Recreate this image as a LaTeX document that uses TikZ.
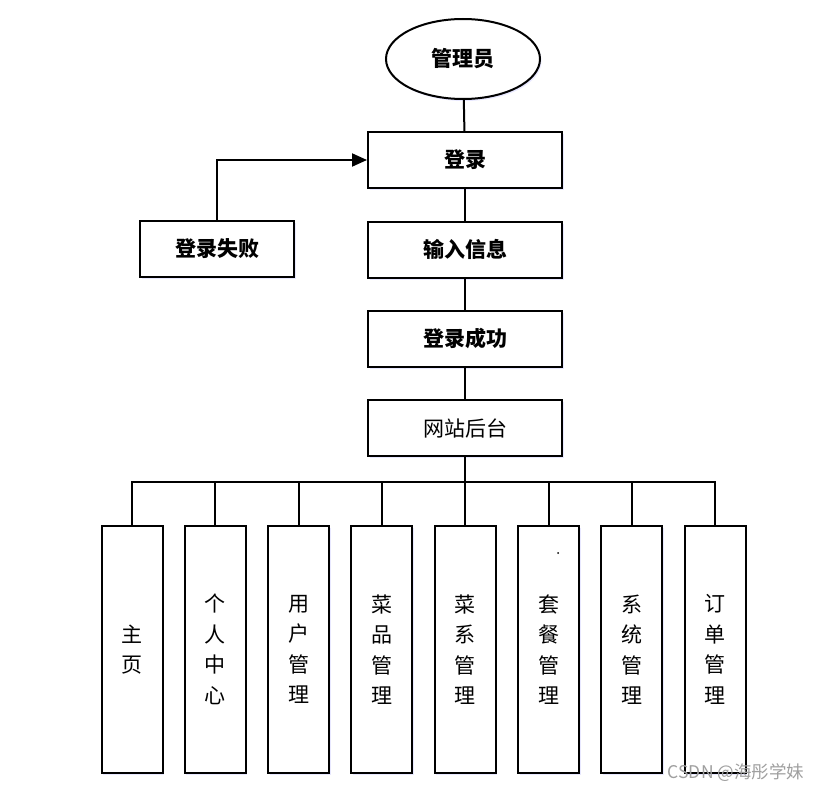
\documentclass[tikz,border=0pt]{standalone}
\usepackage{fontspec}
\newfontfamily\cjk{Noto Sans CJK SC}
\usetikzlibrary{shapes.geometric,shadows,arrows.meta}
\tikzset{
  glow/.style={drop shadow={shadow xshift=1.5pt, shadow yshift=-2pt, fill=blue!25, opacity=0.35}},
  stepbox/.style={draw, line width=2pt, fill=white, glow, minimum width=194pt, minimum height=56pt,
    font=\cjk\bfseries\fontsize{21}{25}\selectfont},
  plainbox/.style={stepbox, font=\cjk\fontsize{21}{25}\selectfont},
  modbox/.style={draw, line width=2pt, fill=white, glow, minimum width=61pt, minimum height=247pt,
    inner sep=0pt, align=center, font=\cjk\fontsize{21}{30.5}\selectfont},
}
\begin{document}
\begin{tikzpicture}[x=1pt, y=-1pt, line width=2pt]
  \useasboundingbox[fill=white] (0,0) rectangle (820,792);
  \node[draw, ellipse, line width=2pt, fill=white, glow, minimum width=154pt, minimum height=80pt,
    font=\cjk\bfseries\fontsize{21}{25}\selectfont] (admin) at (463,59) {管理员};
  \node[stepbox] (login) at (465,160) {登录};
  \node[stepbox] (input) at (465,249.5) {输入信息};
  \node[stepbox] (ok) at (465,338.5) {登录成功};
  \node[plainbox] (back) at (465,428) {网站后台};
  \node[stepbox, minimum width=154pt] (fail) at (217,249) {登录失败};
  \draw (admin) -- (login);
  \draw (login) -- (input);
  \draw (input) -- (ok);
  \draw (ok) -- (back);
  \draw[-{Triangle[length=15pt,width=13pt]}] (fail.north) |- (login.west);
  % modules
  \foreach \t [count=\i] in {{主\\页},{个\\人\\中\\心},{用\\户\\管\\理},{菜\\品\\管\\理},
      {菜\\系\\管\\理},{套\\餐\\管\\理},{系\\统\\管\\理},{订\\单\\管\\理}}
    \node[modbox] (m\i) at ({132+(\i-1)*83.3},649.5) {\t};
  \coordinate (bus) at (465,482);
  \draw (back) -- (bus);
  \draw (m1.north) |- (bus) -| (m8.north);
  \foreach \i in {2,...,7}
    \draw (m\i.north) -- (m\i.north |- bus);
  \fill (558,553) circle (1pt);
  \node[font=\cjk\fontsize{17.5}{20}\selectfont, text=gray!75] (mark) at (736,773) {CSDN @海彤学妹};
\end{tikzpicture}
\end{document}
